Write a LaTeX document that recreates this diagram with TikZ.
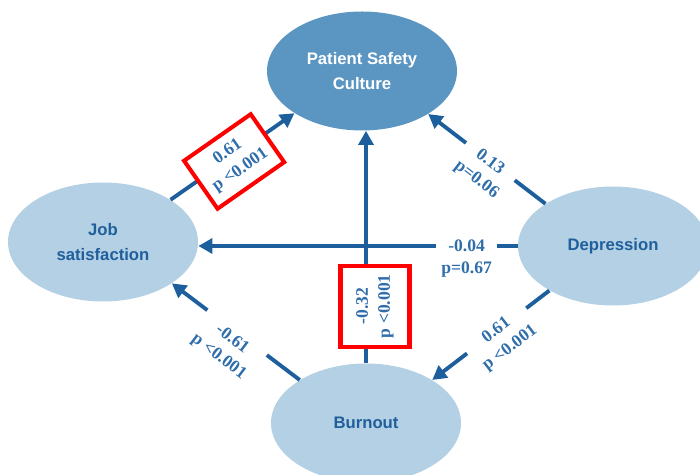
\documentclass[tikz,border=0pt]{standalone}
\usepackage{fontspec}
\setmainfont{Liberation Serif}
\setsansfont{Liberation Sans}
\usetikzlibrary{arrows.meta,shapes.geometric}

\definecolor{pscfill}{HTML}{5B96C2}
\definecolor{factorfill}{HTML}{B4D0E4}
\definecolor{factortext}{HTML}{1F5F9B}
\definecolor{effectblue}{HTML}{1D5E9C}
\definecolor{coefblue}{HTML}{2F6EAB}

\begin{document}
\begin{tikzpicture}[
    factor/.style={ellipse, fill=factorfill, minimum width=3.8cm, minimum height=2.38cm,
      text=factortext, align=center, font=\sffamily\bfseries\fontsize{9.5}{14}\selectfont},
    effect/.style={draw=effectblue, line width=2.2pt, -{Triangle[length=8pt,width=8.5pt]}},
    coef/.style={fill=white, text=coefblue, align=center, inner sep=3pt,
      font=\bfseries\fontsize{10}{12.5}\selectfont},
    sig/.style={coef, draw=red, line width=2.3pt, inner xsep=5pt, inner ysep=6pt}
  ]
    \useasboundingbox (0,0) rectangle (14,9.5);
    \node[factor, fill=pscfill, text=white] (psc) at (7.24, 8.08) {Patient Safety\\Culture};
    \node[factor] (job) at (2.06, 4.66) {Job\\satisfaction};
    \node[factor] (dep) at (12.26, 4.58) {Depression};
    \node[factor] (burn) at (7.32, 1.04) {Burnout};
    \draw [effect] (job.32) to node[sig, sloped, pos=0.49, yshift=-0.1cm] {0.61\\p <0.001} (psc.212);
    \draw [effect] (dep.148) to node[coef, sloped, pos=0.47, yshift=-0.24cm] {0.13\\p=0.06} (psc.327);
    \draw [effect] (dep.west) to node[coef, pos=0.16, yshift=-0.25cm] {-0.04\\p=0.67} (dep.west -| job.east);
    \draw [effect] (burn.north) to node[sig, sloped, pos=0.245, yshift=-0.18cm, inner ysep=9pt] {-0.32\\p <0.001} (burn.north |- psc.south);
    \draw [effect] (dep.215) to node[coef, sloped, pos=0.45, yshift=-0.22cm] {0.61\\p <0.001} (burn.33);
    \draw [effect] (burn.147) to node[coef, sloped, pos=0.49, yshift=-0.39cm] {-0.61\\p <0.001} (job.329);
\end{tikzpicture}
\end{document}
